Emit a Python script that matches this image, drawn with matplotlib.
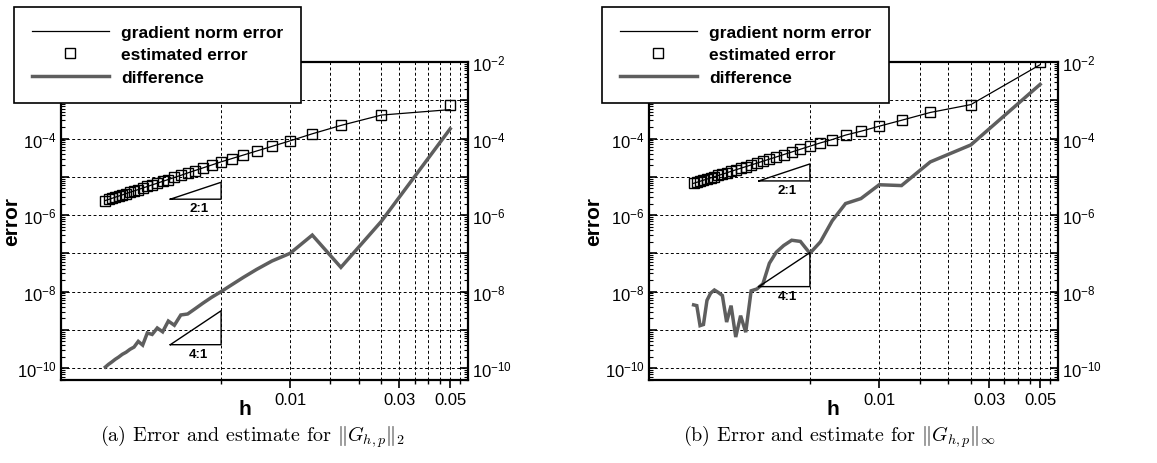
import numpy as np
import matplotlib
matplotlib.use("Agg")
import matplotlib.pyplot as plt
from matplotlib import ticker

plt.rcParams['font.family'] = ['Liberation Sans', 'DejaVu Sans']

# mesh sizes h = 1/n
n_cells = [20, 40, 60, 80, 100, 120, 140, 160, 180, 200, 220, 240, 260, 280, 300, 320,
           340, 360, 380, 400, 420, 440, 460, 480, 500, 520, 540, 560, 580, 600, 620, 640]
h = 1.0 / np.array(n_cells, dtype=float)

# (a) ||G||_2
est_a = [7.7e-4, 4.1e-4, 2.2e-4, 1.33e-4, 8.7e-5, 6.24e-5, 4.72e-5, 3.70e-5, 2.98e-5, 2.46e-5,
         2.03e-5, 1.71e-5, 1.46e-5, 1.26e-5, 1.09e-5, 9.6e-6, 8.5e-6, 7.6e-6, 6.8e-6, 6.15e-6,
         5.58e-6, 5.08e-6, 4.65e-6, 4.27e-6, 3.94e-6, 3.64e-6, 3.37e-6, 3.14e-6, 2.93e-6, 2.73e-6,
         2.56e-6, 2.40e-6]
err_a = [5.7e-4] + est_a[1:]
diff_a = [1.8e-4, 6.8e-7, 4.3e-8, 3.0e-7, 1.0e-7, 6.3e-8, 3.8e-8, 2.35e-8, 1.5e-8, 1.0e-8,
          7.1e-9, 5.0e-9, 3.55e-9, 2.6e-9, 2.45e-9, 1.32e-9, 1.7e-9, 8.9e-10, 1.12e-9, 7.6e-10,
          8.3e-10, 4.0e-10, 5.0e-10, 3.55e-10, 3.1e-10, 2.6e-10, 2.3e-10, 1.95e-10, 1.7e-10, 1.45e-10,
          1.26e-10, 1.07e-10]

# (b) ||G||_inf
est_b = [9.8e-3, 7.7e-4, 4.8e-4, 3.0e-4, 2.1e-4, 1.55e-4, 1.23e-4, 9.4e-5, 7.7e-5, 6.3e-5,
         5.25e-5, 4.44e-5, 3.81e-5, 3.30e-5, 2.89e-5, 2.56e-5, 2.27e-5, 2.04e-5, 1.84e-5, 1.67e-5,
         1.52e-5, 1.39e-5, 1.27e-5, 1.17e-5, 1.085e-5, 1.006e-5, 9.36e-6, 8.73e-6, 8.16e-6, 7.64e-6,
         7.18e-6, 6.75e-6]
err_b = [8.5e-3] + est_b[1:]
diff_b = [2.6e-3, 6.8e-5, 2.45e-5, 5.9e-6, 6.2e-6, 2.7e-6, 2.0e-6, 7.1e-7, 2.0e-7, 1.0e-7,
          2.05e-7, 2.2e-7, 1.6e-7, 1.07e-7, 5.5e-8, 1.6e-8, 1.17e-8, 1.05e-8, 8.7e-10, 2.35e-9,
          6.5e-10, 4.3e-9, 1.6e-9, 7.9e-9, 9.5e-9, 1.1e-8, 9.1e-9, 5.9e-9, 1.38e-9, 1.29e-9,
          4.3e-9, 4.5e-9]

# slope triangles: (h_left, h_right, y_base, y_top)
tri_a2 = (0.003, 0.005, 2.6e-6, 7.2e-6)
tri_a4 = (0.003, 0.005, 4.1e-10, 3.16e-9)
tri_b2 = (0.003, 0.005, 7.8e-6, 2.17e-5)
tri_b4 = (0.003, 0.005, 1.35e-8, 1.04e-7)

W, H = 1157, 464
fig = plt.figure(figsize=(W / 100, H / 100), dpi=100)


def sup_fmt(v, pos):
    e = int(round(np.log10(v)))
    if e % 2:
        return ''
    return r'$\mathregular{10^{%d}}$' % e


def triangle(ax, tri, label):
    x0, x1, y0, y1 = tri
    ax.plot([x0, x1, x1, x0], [y0, y0, y1, y0], color='black', lw=1.0, zorder=4)
    ax.text(np.sqrt(x0 * x1) * 1.03, y0 * 0.82, label, ha='center', va='top',
            fontsize=9.5, fontweight='bold', zorder=4)


def panel(ax, est, err, diff, tri2, tri4, leg_x, caption, cap_x, ylab_x, hlab_x):
    l1, = ax.plot(h, err, color='black', lw=0.9, zorder=3)
    l2, = ax.plot(h, est, ls='none', marker='s', ms=6.8, mfc='none', mec='black', mew=1.0, zorder=3)
    l3, = ax.plot(h, diff, color='#5e5e5e', lw=2.5, solid_joinstyle='miter', zorder=3)
    triangle(ax, tri2, '2:1')
    triangle(ax, tri4, '4:1')

    ax.set_xscale('log')
    ax.set_yscale('log')
    ax.set_xlim(0.001, 0.0598)
    ax.set_ylim(4.9e-11, 1e-2)

    ax.xaxis.set_major_locator(ticker.FixedLocator([0.01, 0.03, 0.05]))
    ax.xaxis.set_major_formatter(ticker.FixedFormatter(['0.01', '0.03', '0.05']))
    ax.xaxis.set_minor_locator(ticker.FixedLocator(
        [0.005, 0.015, 0.02, 0.025, 0.035, 0.04, 0.045, 0.055]))
    ax.xaxis.set_minor_formatter(ticker.NullFormatter())
    ax.yaxis.set_major_locator(ticker.LogLocator(base=10, numticks=20))
    ax.yaxis.set_major_formatter(ticker.FuncFormatter(sup_fmt))
    ax.yaxis.set_minor_locator(ticker.LogLocator(base=10, subs=np.arange(2, 10), numticks=20))
    ax.yaxis.set_minor_formatter(ticker.NullFormatter())

    ax.tick_params(axis='x', which='major', direction='out', length=5.5, width=1.2,
                   labelsize=12, pad=3)
    ax.tick_params(axis='x', which='minor', direction='out', length=3, width=1.0)
    ax.tick_params(axis='y', which='major', direction='in', length=5.5, width=1.2,
                   left=True, right=True, labelleft=True, labelright=True, labelsize=12, pad=3)
    ax.tick_params(axis='y', which='minor', direction='in', length=3, width=0.8,
                   left=True, right=True)

    ax.grid(True, axis='x', which='both', color='black', lw=0.7, ls=(0, (3, 2.5)))
    ax.grid(True, axis='y', which='major', color='black', lw=0.7, ls=(0, (3, 2.5)))
    for s in ax.spines.values():
        s.set_linewidth(1.6)

    leg = ax.legend([l1, l2, l3], ['gradient norm error', 'estimated error', 'difference'],
                    loc='upper left', bbox_to_anchor=(leg_x / W, 1 - 8 / H),
                    bbox_transform=fig.transFigure, borderaxespad=0, numpoints=1,
                    frameon=True, fancybox=False, edgecolor='black', framealpha=1,
                    prop={'weight': 'bold', 'size': 12.5}, handlelength=4.4,
                    handletextpad=0.7, borderpad=1.05, labelspacing=0.4)
    leg.get_frame().set_linewidth(1.2)
    leg.set_zorder(10)

    fig.text(ylab_x / W, 1 - 222 / H, 'error', rotation=90, ha='center', va='center',
             fontsize=15, fontweight='bold')
    fig.text(hlab_x / W, 1 - 410 / H, 'h', ha='center', va='center',
             fontsize=15, fontweight='bold')
    fig.text(cap_x / W, 1 - 437 / H, caption, ha='center', va='center',
             fontsize=14.5, family='cmr10', math_fontfamily='cm')


ax_a = fig.add_axes([61 / W, 1 - 381 / H, 407 / W, 318 / H])
ax_b = fig.add_axes([649 / W, 1 - 381 / H, 409 / W, 318 / H])

panel(ax_a, est_a, err_a, diff_a, tri_a2, tri_a4, 14,
      r'(a) Error and estimate for $\|G_{h,p}\|_2$', 253, 12, 245)
panel(ax_b, est_b, err_b, diff_b, tri_b2, tri_b4, 602,
      r'(b) Error and estimate for $\|G_{h,p}\|_\infty$', 840, 594, 833)

fig.savefig('out.png', dpi=100)
